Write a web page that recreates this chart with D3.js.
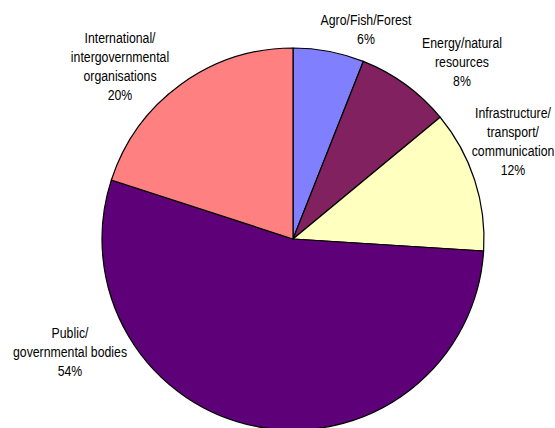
<!DOCTYPE html>
<html>
<head>
<meta charset="utf-8">
<script src="https://cdn.jsdelivr.net/npm/d3@7"></script>
<style>
  html, body { margin: 0; padding: 0; background: #fff; }
  svg { display: block; }
  text { font-family: "Liberation Sans", Arial, sans-serif; font-size: 15px; fill: #000; }
</style>
</head>
<body>
<svg id="chart" width="555" height="428"></svg>
<script>
// Sector shares (percent), clockwise from 12 o'clock
const sectors = ["Agro/Fish/Forest", "Energy/natural resources", "Infrastructure/transport/communication", "Public/governmental bodies", "International/intergovernmental organisations"];
const shares = [6, 8, 12, 54, 20];
const colors = ["#8080FF", "#822160", "#FFFFC0", "#5E0078", "#FF8080"];
// Label lines for each sector (last line is the share)
const labelLines = [
  ["Agro/Fish/Forest"],
  ["Energy/natural", "resources"],
  ["Infrastructure/", "transport/", "communication"],
  ["Public/", "governmental bodies"],
  ["International/", "intergovernmental", "organisations"]
];
// Label anchor points (centre x, first-line baseline y)
const labelPos = [[366, 25], [462, 48], [513, 118], [70, 338], [120, 43]];

const svg = d3.select("#chart");
const cx = 293, cy = 239, r = 191;

const pie = d3.pie().sort(null).value(d => d.v).startAngle(0).endAngle(2 * Math.PI);
const arc = d3.arc().innerRadius(0).outerRadius(r);
const data = sectors.map((s, i) => ({ name: s, v: shares[i], color: colors[i], lines: labelLines[i], pos: labelPos[i] }));

const g = svg.append("g").attr("transform", `translate(${cx},${cy})`);
g.selectAll("path")
  .data(pie(data))
  .join("path")
  .attr("d", arc)
  .attr("fill", d => d.data.color)
  .attr("stroke", "#000")
  .attr("stroke-width", 1.2)
  .attr("stroke-linejoin", "round");

// Labels: narrow-looking text, centred on each anchor
const lineH = 19;
const labels = svg.selectAll("g.lbl")
  .data(data)
  .join("g")
  .attr("class", "lbl")
  .attr("transform", d => `translate(${d.pos[0]},${d.pos[1]}) scale(0.82,1)`);

labels.each(function (d) {
  const t = d3.select(this).append("text").attr("text-anchor", "middle");
  d.lines.concat([d.v + "%"]).forEach((ln, i) => {
    t.append("tspan").attr("x", 0).attr("y", i * lineH).text(ln);
  });
});
</script>
</body>
</html>
